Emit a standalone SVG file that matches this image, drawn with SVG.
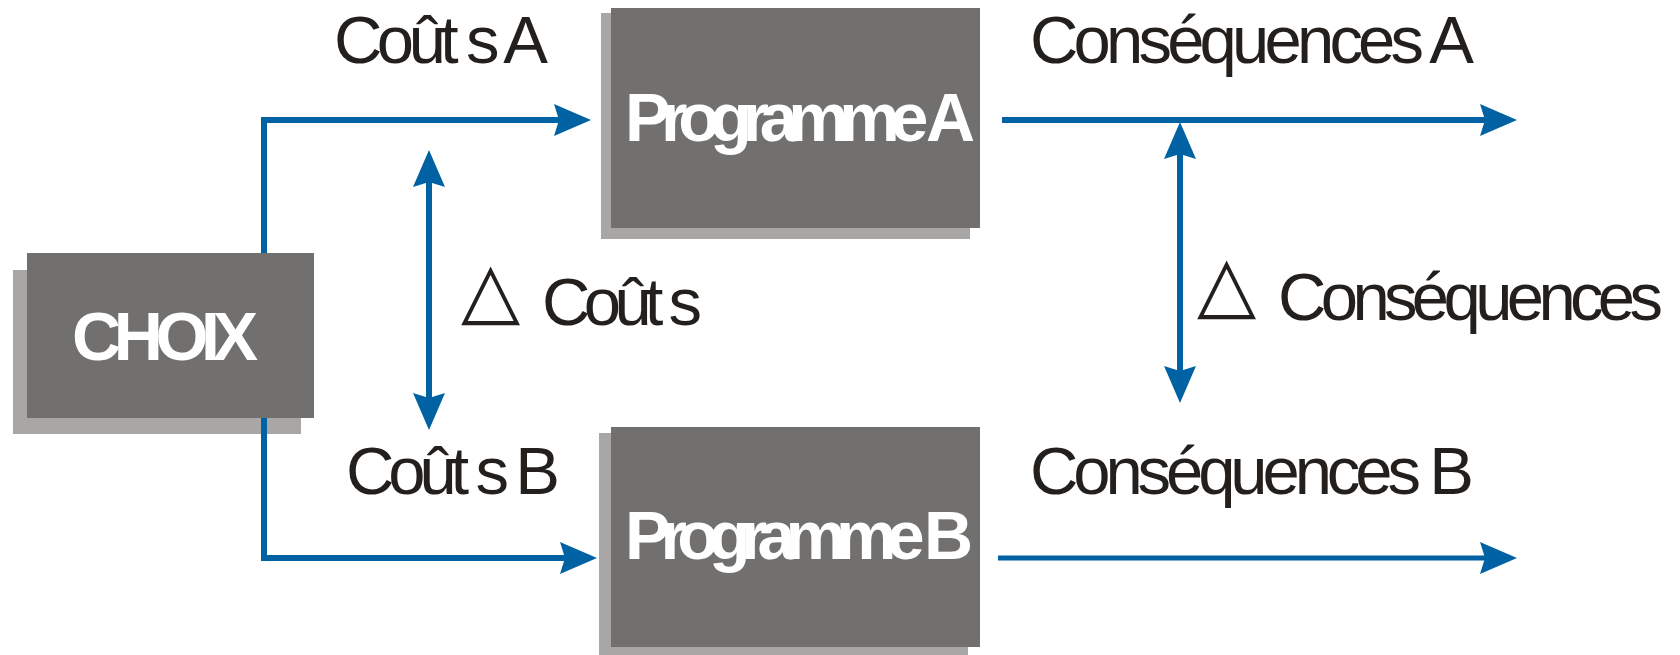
<svg xmlns="http://www.w3.org/2000/svg" width="1680" height="655" viewBox="0 0 1680 655">
<style>
.front{fill:#71706e}
.shadow{fill:#a8a7a6}
.lbl{font-family:"Liberation Sans",Arial,sans-serif;font-size:67px;fill:#231f1c}
.box{font-family:"Liberation Sans",Arial,sans-serif;font-size:68px;font-weight:bold;fill:#ffffff}
.tri{font-family:"DejaVu Sans",sans-serif;font-size:77px;fill:#231f1c}
.conn{fill:none;stroke:#0062a3;stroke-width:6;stroke-linejoin:miter}
</style>
<defs>
<marker id="ah" markerUnits="userSpaceOnUse" markerWidth="40" markerHeight="34" refX="5" refY="16" orient="auto-start-reverse" overflow="visible">
<path d="M0,0 L37,16 L0,32 L5,16 Z" fill="#0062a3"/>
</marker>
</defs>
<rect width="1680" height="655" fill="#ffffff"/>
<g id="choix">
<rect class="shadow" x="13" y="270" width="288" height="164"/>
<rect class="front" x="27" y="253" width="287" height="165"/>
<text class="box" x="72" y="360" textLength="186">CHOIX</text>
</g>
<g id="programme-a">
<rect class="shadow" x="601" y="13" width="369" height="226"/>
<rect class="front" x="611" y="8" width="369" height="220"/>
<text class="box" x="625" y="141" textLength="350">Programme A</text>
</g>
<g id="programme-b">
<rect class="shadow" x="599" y="433" width="369" height="222"/>
<rect class="front" x="611" y="427" width="369" height="220"/>
<text class="box" x="625" y="559" textLength="348">Programme B</text>
</g>
<g id="connectors">
<path class="conn" d="M264,253 V120 H559" marker-end="url(#ah)"/>
<path class="conn" d="M264,418 V558 H565" marker-end="url(#ah)"/>
<path class="conn" d="M1002,120 H1485" marker-end="url(#ah)"/>
<path class="conn" style="stroke-width:5" d="M998,558 H1485" marker-end="url(#ah)"/>
<path class="conn" d="M429,182 V398" marker-start="url(#ah)" marker-end="url(#ah)"/>
<path class="conn" d="M1180,154 V371" marker-start="url(#ah)" marker-end="url(#ah)"/>
</g>
<g id="labels">
<text class="lbl" x="334" y="63" textLength="214">Coût s A</text>
<text class="lbl" x="346" y="494" textLength="214">Coût s B</text>
<text class="lbl" x="1030" y="63" textLength="444">Conséquences A</text>
<text class="lbl" x="1030" y="494" textLength="444">Conséquences B</text>
<text class="tri" x="461" y="316">△</text>
<text class="lbl" x="542" y="325" textLength="160">Coût s</text>
<text class="tri" x="1197" y="310">△</text>
<text class="lbl" x="1278" y="320" textLength="385">Conséquences</text>
</g>
</svg>
